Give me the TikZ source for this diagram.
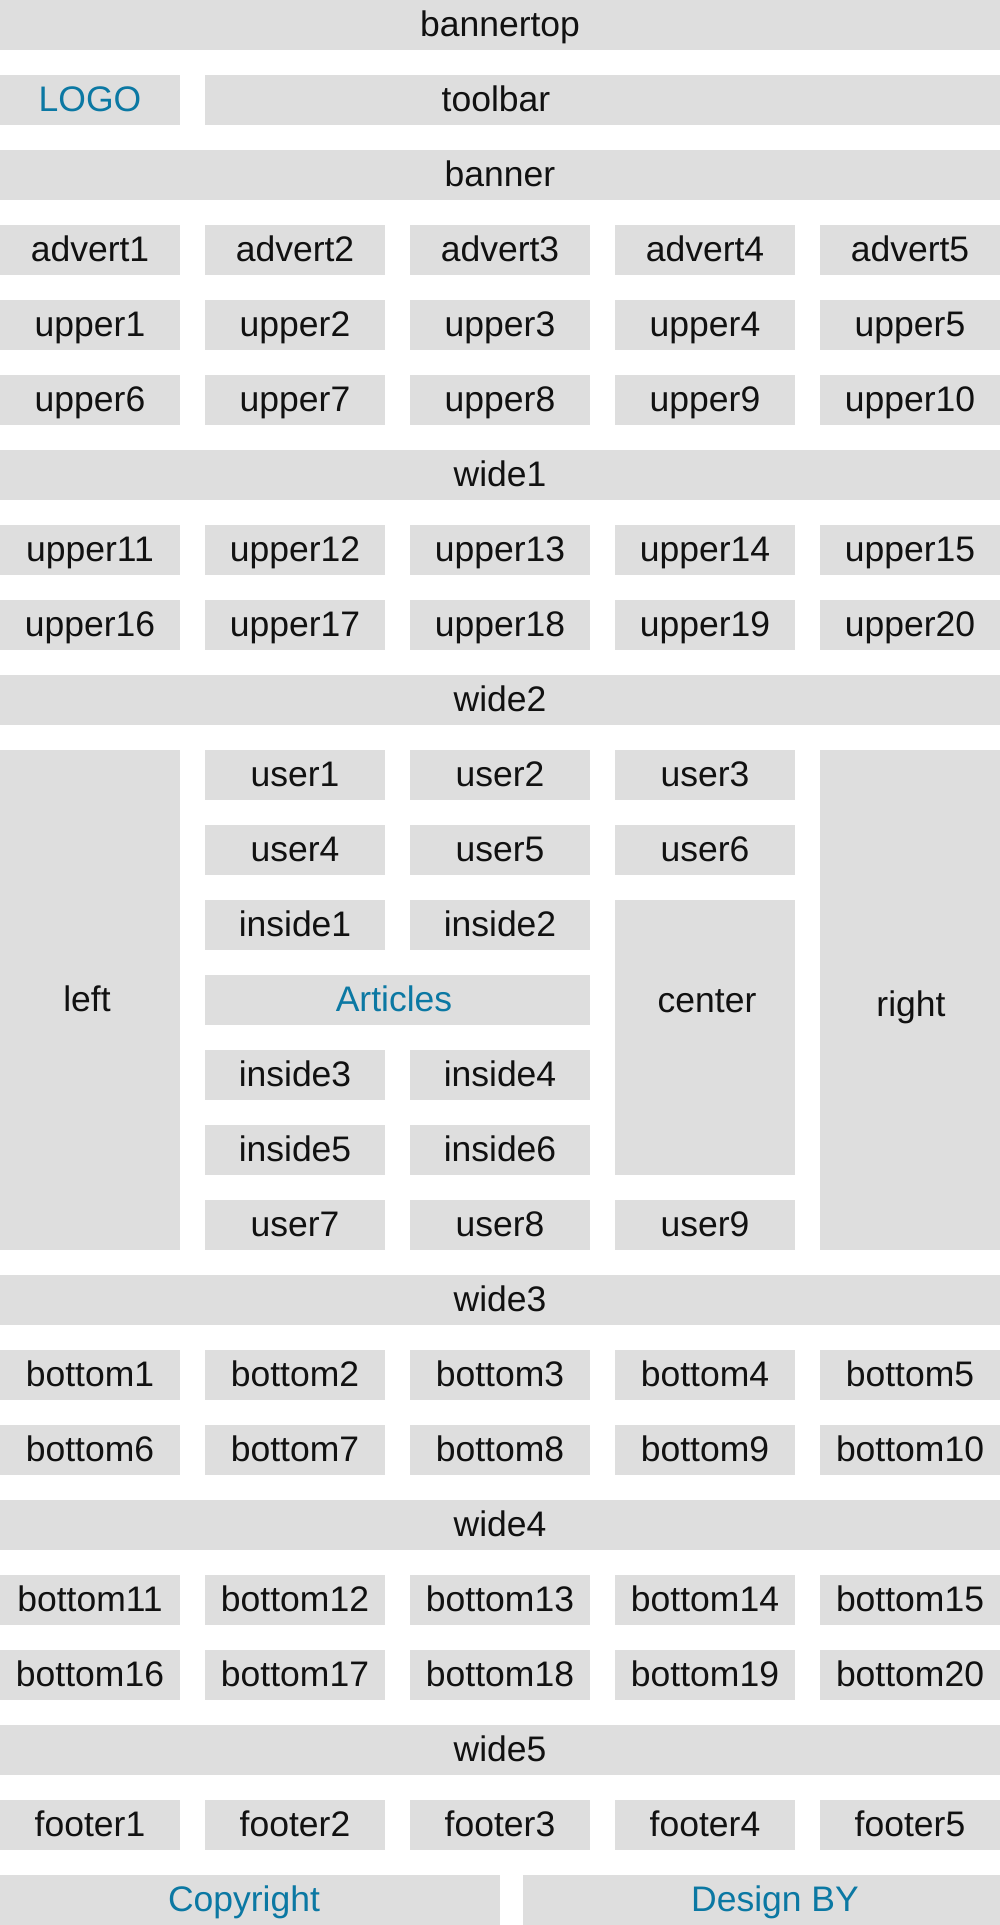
\documentclass[tikz,border=0pt]{standalone}
\usepackage{fontspec}
\setmainfont{Liberation Sans}
\definecolor{cellgray}{HTML}{DEDEDE}
\definecolor{linkblue}{HTML}{0B78A3}
\definecolor{ink}{HTML}{111111}
\begin{document}
\begin{tikzpicture}[x=1pt,y=1pt]
    \tikzstyle{every node}+=[inner sep=0pt]
    \tikzstyle{cell}=[fill=cellgray, text=ink, minimum width=180pt, minimum height=50pt,
        font=\fontsize{35.5}{40}\selectfont, text height=24pt, text depth=2pt]
    \tikzstyle{wide}=[cell, minimum width=1000pt]
    \tikzstyle{title}=[cell, fill=none, minimum width=0pt, minimum height=0pt]
    \tikzstyle{link}=[text=linkblue]
    \useasboundingbox (0,0) rectangle (1000,-1925);
    % header
    \node [wide] (bannertop) at (500,-25) {bannertop};
    \node [cell, link] (logo) at (90,-100) {LOGO};
    \node [cell, minimum width=795pt] (toolbar) at (602.5,-100) {};
    \node [title] (toolbartitle) at (496,-100) {toolbar};
    \node [wide] (banner) at (500,-175) {banner};
    \node [cell] (advert1) at (90,-250) {advert1};
    \node [cell] (advert2) at (295,-250) {advert2};
    \node [cell] (advert3) at (500,-250) {advert3};
    \node [cell] (advert4) at (705,-250) {advert4};
    \node [cell] (advert5) at (910,-250) {advert5};
    \node [cell] (upper1) at (90,-325) {upper1};
    \node [cell] (upper2) at (295,-325) {upper2};
    \node [cell] (upper3) at (500,-325) {upper3};
    \node [cell] (upper4) at (705,-325) {upper4};
    \node [cell] (upper5) at (910,-325) {upper5};
    \node [cell] (upper6) at (90,-400) {upper6};
    \node [cell] (upper7) at (295,-400) {upper7};
    \node [cell] (upper8) at (500,-400) {upper8};
    \node [cell] (upper9) at (705,-400) {upper9};
    \node [cell] (upper10) at (910,-400) {upper10};
    \node [wide] (wide1) at (500,-475) {wide1};
    \node [cell] (upper11) at (90,-550) {upper11};
    \node [cell] (upper12) at (295,-550) {upper12};
    \node [cell] (upper13) at (500,-550) {upper13};
    \node [cell] (upper14) at (705,-550) {upper14};
    \node [cell] (upper15) at (910,-550) {upper15};
    \node [cell] (upper16) at (90,-625) {upper16};
    \node [cell] (upper17) at (295,-625) {upper17};
    \node [cell] (upper18) at (500,-625) {upper18};
    \node [cell] (upper19) at (705,-625) {upper19};
    \node [cell] (upper20) at (910,-625) {upper20};
    \node [wide] (wide2) at (500,-700) {wide2};
    % main block
    \node [cell, minimum height=500pt] (left) at (90,-1000) {};
    \node [title] (lefttitle) at (87,-1000) {left};
    \node [cell, minimum height=500pt] (right) at (910,-1000) {};
    \node [title] (righttitle) at (911,-1005) {right};
    \node [cell] (user1) at (295,-775) {user1};
    \node [cell] (user2) at (500,-775) {user2};
    \node [cell] (user3) at (705,-775) {user3};
    \node [cell] (user4) at (295,-850) {user4};
    \node [cell] (user5) at (500,-850) {user5};
    \node [cell] (user6) at (705,-850) {user6};
    \node [cell] (inside1) at (295,-925) {inside1};
    \node [cell] (inside2) at (500,-925) {inside2};
    \node [cell, minimum height=275pt] (center) at (705,-1037.5) {};
    \node [title] (centertitle) at (707,-1001) {center};
    \node [cell, link, minimum width=385pt] (articles) at (397.5,-1000) {};
    \node [title, link] (articlestitle) at (394,-1000) {Articles};
    \node [cell] (inside3) at (295,-1075) {inside3};
    \node [cell] (inside4) at (500,-1075) {inside4};
    \node [cell] (inside5) at (295,-1150) {inside5};
    \node [cell] (inside6) at (500,-1150) {inside6};
    \node [cell] (user7) at (295,-1225) {user7};
    \node [cell] (user8) at (500,-1225) {user8};
    \node [cell] (user9) at (705,-1225) {user9};
    % lower part
    \node [wide] (wide3) at (500,-1300) {wide3};
    \node [cell] (bottom1) at (90,-1375) {bottom1};
    \node [cell] (bottom2) at (295,-1375) {bottom2};
    \node [cell] (bottom3) at (500,-1375) {bottom3};
    \node [cell] (bottom4) at (705,-1375) {bottom4};
    \node [cell] (bottom5) at (910,-1375) {bottom5};
    \node [cell] (bottom6) at (90,-1450) {bottom6};
    \node [cell] (bottom7) at (295,-1450) {bottom7};
    \node [cell] (bottom8) at (500,-1450) {bottom8};
    \node [cell] (bottom9) at (705,-1450) {bottom9};
    \node [cell] (bottom10) at (910,-1450) {bottom10};
    \node [wide] (wide4) at (500,-1525) {wide4};
    \node [cell] (bottom11) at (90,-1600) {bottom11};
    \node [cell] (bottom12) at (295,-1600) {bottom12};
    \node [cell] (bottom13) at (500,-1600) {bottom13};
    \node [cell] (bottom14) at (705,-1600) {bottom14};
    \node [cell] (bottom15) at (910,-1600) {bottom15};
    \node [cell] (bottom16) at (90,-1675) {bottom16};
    \node [cell] (bottom17) at (295,-1675) {bottom17};
    \node [cell] (bottom18) at (500,-1675) {bottom18};
    \node [cell] (bottom19) at (705,-1675) {bottom19};
    \node [cell] (bottom20) at (910,-1675) {bottom20};
    \node [wide] (wide5) at (500,-1750) {wide5};
    \node [cell] (footer1) at (90,-1825) {footer1};
    \node [cell] (footer2) at (295,-1825) {footer2};
    \node [cell] (footer3) at (500,-1825) {footer3};
    \node [cell] (footer4) at (705,-1825) {footer4};
    \node [cell] (footer5) at (910,-1825) {footer5};
    \node [cell, minimum width=500pt] (copyright) at (250,-1900) {};
    \node [title, link] (copyrighttitle) at (244,-1900) {Copyright};
    \node [cell, minimum width=477pt] (designby) at (761.5,-1900) {};
    \node [title, link] (designbytitle) at (775,-1900) {Design BY};
\end{tikzpicture}
\end{document}
